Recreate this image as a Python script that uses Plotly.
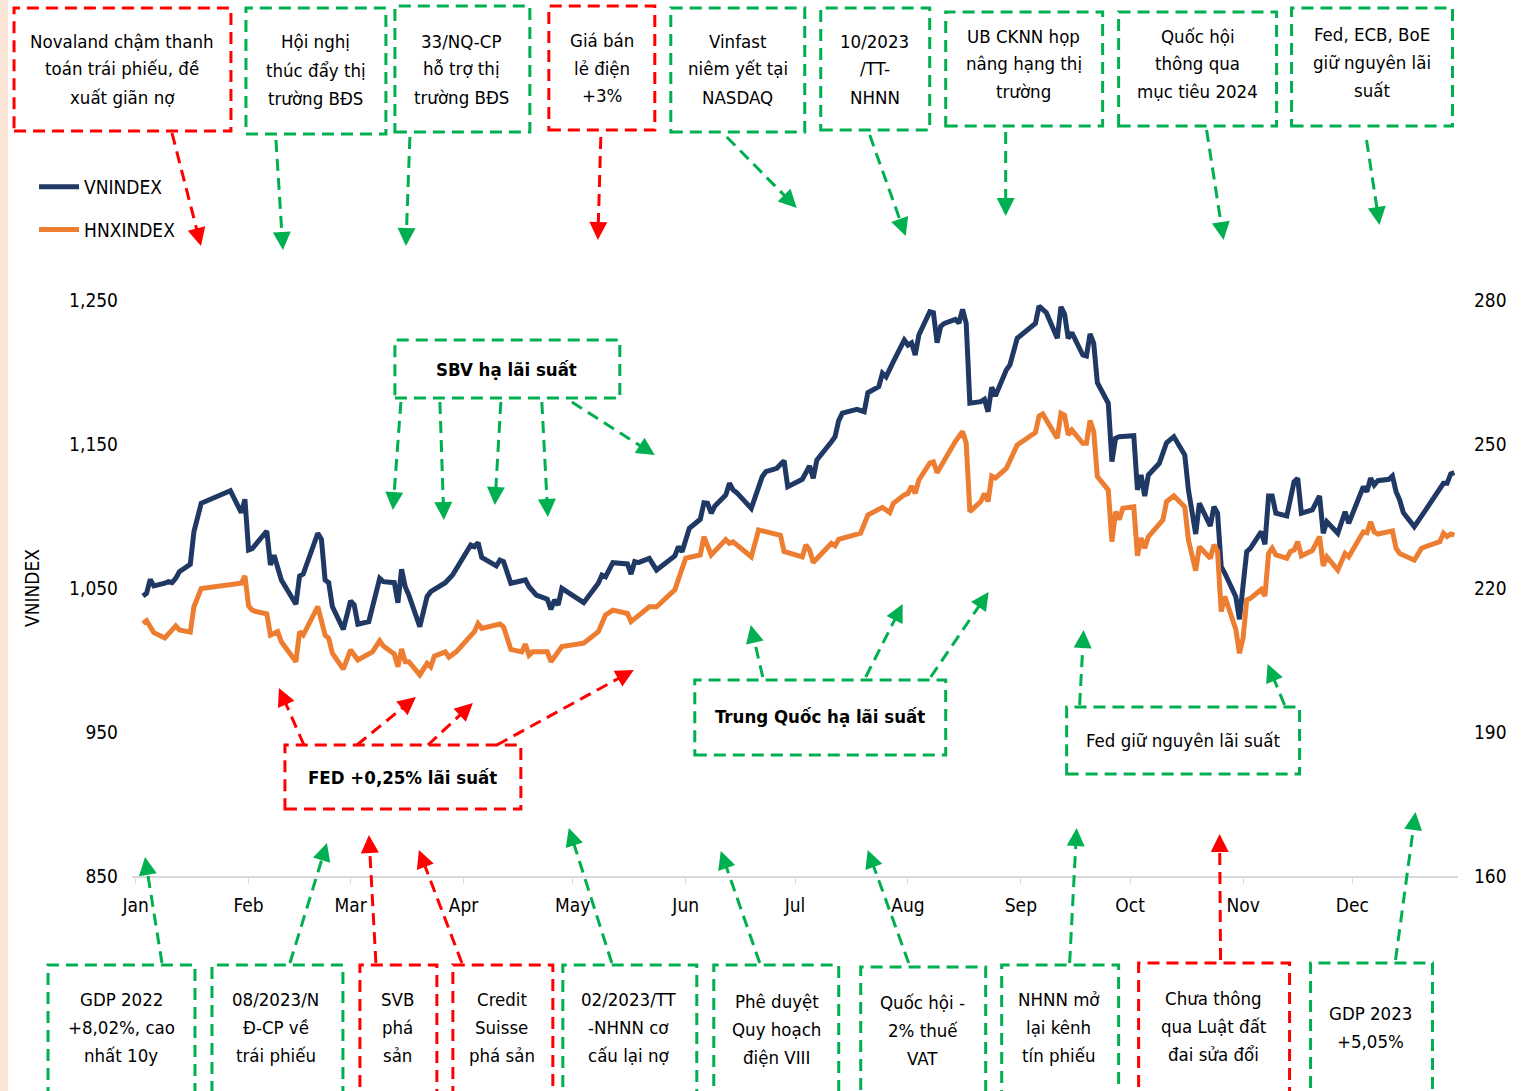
import plotly.graph_objects as go

# ---------------- DATA ----------------
vn_dates = ["2023-01-03","2023-01-04","2023-01-05","2023-01-06","2023-01-09","2023-01-10","2023-01-11","2023-01-12","2023-01-13","2023-01-16",
"2023-01-17","2023-01-19","2023-01-27","2023-01-30","2023-01-31","2023-02-01","2023-02-02","2023-02-06","2023-02-07","2023-02-08",
"2023-02-10","2023-02-14","2023-02-15","2023-02-16","2023-02-20","2023-02-21","2023-02-22","2023-02-23","2023-02-24","2023-02-27",
"2023-03-01","2023-03-02","2023-03-03","2023-03-06","2023-03-09","2023-03-10","2023-03-13","2023-03-14","2023-03-15","2023-03-16",
"2023-03-17","2023-03-20","2023-03-22","2023-03-23","2023-03-27","2023-03-29","2023-04-03","2023-04-04","2023-04-05","2023-04-06",
"2023-04-10","2023-04-11","2023-04-12","2023-04-14","2023-04-18","2023-04-19","2023-04-21","2023-04-24","2023-04-25","2023-04-26",
"2023-04-27","2023-04-28","2023-05-04","2023-05-08","2023-05-09","2023-05-10","2023-05-12","2023-05-16","2023-05-17","2023-05-18",
"2023-05-19","2023-05-22","2023-05-24","2023-05-25","2023-05-26","2023-05-29","2023-05-30","2023-05-31","2023-06-02","2023-06-05",
"2023-06-06","2023-06-07","2023-06-08","2023-06-09","2023-06-12","2023-06-13","2023-06-14","2023-06-15","2023-06-19","2023-06-22",
"2023-06-23","2023-06-26","2023-06-28","2023-06-29","2023-07-03","2023-07-05","2023-07-06","2023-07-07","2023-07-11","2023-07-12",
"2023-07-13","2023-07-14","2023-07-18","2023-07-20","2023-07-21","2023-07-24","2023-07-25","2023-07-26","2023-07-28","2023-07-31",
"2023-08-01","2023-08-02","2023-08-03","2023-08-04","2023-08-07","2023-08-08","2023-08-09","2023-08-10","2023-08-11","2023-08-14",
"2023-08-15","2023-08-16","2023-08-17","2023-08-18","2023-08-21","2023-08-22","2023-08-23","2023-08-24","2023-08-25","2023-08-28",
"2023-08-29","2023-08-31","2023-09-05","2023-09-06","2023-09-08","2023-09-11","2023-09-12","2023-09-13","2023-09-14","2023-09-15",
"2023-09-18","2023-09-19","2023-09-20","2023-09-21","2023-09-22","2023-09-25","2023-09-26","2023-09-27","2023-09-28","2023-10-02",
"2023-10-03","2023-10-04","2023-10-05","2023-10-06","2023-10-09","2023-10-11","2023-10-13","2023-10-16","2023-10-17","2023-10-19",
"2023-10-20","2023-10-23","2023-10-24","2023-10-25","2023-10-26","2023-10-27","2023-10-30","2023-10-31","2023-11-02","2023-11-03",
"2023-11-06","2023-11-07","2023-11-08","2023-11-09","2023-11-10","2023-11-13","2023-11-15","2023-11-16","2023-11-17","2023-11-20",
"2023-11-22","2023-11-23","2023-11-24","2023-11-27","2023-11-29","2023-11-30","2023-12-04","2023-12-05","2023-12-06","2023-12-07",
"2023-12-08","2023-12-11","2023-12-12","2023-12-13","2023-12-14","2023-12-15","2023-12-18","2023-12-20","2023-12-21","2023-12-26",
"2023-12-27","2023-12-28","2023-12-29"]
vn_values = [1044.4,1046.3,1056.0,1051.4,1053.3,1054.4,1053.7,1056.7,1061.3,1066.5,
1089.1,1108.8,1117.6,1102.3,1111.6,1076.4,1077.3,1089.6,1066.0,1072.7,
1055.6,1038.7,1058.3,1059.7,1088.0,1083.8,1055.6,1053.7,1037.1,1021.3,
1041.0,1038.2,1024.8,1026.6,1056.7,1054.4,1053.7,1039.8,1063.0,1050.9,
1045.1,1023.1,1044.0,1047.4,1053.7,1059.0,1079.9,1078.7,1081.5,1071.3,
1065.3,1069.4,1068.3,1053.3,1055.6,1050.9,1045.1,1042.2,1035.2,1041.7,
1038.2,1049.8,1039.8,1053.3,1059.0,1057.8,1067.6,1066.7,1059.7,1068.3,
1067.6,1070.6,1062.5,1064.4,1066.0,1072.2,1078.7,1075.2,1091.5,1097.7,
1109.2,1108.8,1101.9,1106.9,1114.6,1122.7,1118.1,1116.2,1105.3,1127.3,
1130.8,1133.1,1138.4,1120.3,1125.5,1134.7,1126.2,1138.9,1151.6,1155.1,
1166.3,1171.5,1174.1,1172.4,1185.6,1189.8,1199.1,1196.7,1207.2,1222.2,
1218.7,1220.3,1211.8,1225.7,1241.9,1241.2,1220.3,1231.7,1233.8,1236.6,
1234.0,1243.5,1233.8,1178.3,1179.4,1181.0,1172.4,1189.4,1183.3,1201.4,
1204.9,1223.4,1233.8,1245.8,1241.2,1223.4,1245.3,1240.3,1223.4,1227.3,
1211.8,1211.1,1226.4,1219.9,1192.6,1178.3,1137.7,1154.0,1155.1,1155.8,
1118.1,1128.5,1113.9,1128.5,1136.6,1150.9,1155.1,1142.4,1118.1,1087.5,
1108.8,1093.1,1106.5,1101.9,1064.8,1060.2,1044.0,1028.3,1075.2,1077.6,
1089.1,1080.3,1113.9,1113.9,1101.9,1100.0,1123.8,1126.2,1101.9,1104.2,
1113.9,1088.0,1096.0,1088.0,1103.0,1094.9,1120.3,1116.9,1126.2,1121.5,
1124.5,1125.5,1127.8,1116.9,1111.1,1102.3,1092.6,1100.7,1103.7,1122.7,
1122.7,1129.2,1130.1]

hnx_dates = ["2023-01-03","2023-01-04","2023-01-06","2023-01-09","2023-01-12","2023-01-13","2023-01-16","2023-01-17","2023-01-19","2023-01-30",
"2023-01-31","2023-02-01","2023-02-02","2023-02-03","2023-02-06","2023-02-07","2023-02-09","2023-02-10","2023-02-14","2023-02-15",
"2023-02-16","2023-02-20","2023-02-22","2023-02-23","2023-02-24","2023-02-27","2023-03-01","2023-03-03","2023-03-07","2023-03-09",
"2023-03-10","2023-03-13","2023-03-14","2023-03-15","2023-03-16","2023-03-17","2023-03-20","2023-03-22","2023-03-23","2023-03-24",
"2023-03-27","2023-03-28","2023-03-30","2023-04-03","2023-04-04","2023-04-05","2023-04-06","2023-04-11","2023-04-12","2023-04-14",
"2023-04-17","2023-04-18","2023-04-19","2023-04-20","2023-04-24","2023-04-25","2023-04-26","2023-04-28","2023-05-04","2023-05-08",
"2023-05-10","2023-05-12","2023-05-16","2023-05-17","2023-05-22","2023-05-24","2023-05-29","2023-05-30","2023-06-01","2023-06-05",
"2023-06-06","2023-06-08","2023-06-12","2023-06-13","2023-06-14","2023-06-19","2023-06-21","2023-06-27","2023-06-28","2023-07-03",
"2023-07-04","2023-07-05","2023-07-06","2023-07-11","2023-07-12","2023-07-13","2023-07-18","2023-07-19","2023-07-21","2023-07-25",
"2023-07-27","2023-07-28","2023-07-31","2023-08-01","2023-08-02","2023-08-03","2023-08-04","2023-08-07","2023-08-08","2023-08-09",
"2023-08-14","2023-08-16","2023-08-17","2023-08-18","2023-08-21","2023-08-22","2023-08-23","2023-08-24","2023-08-25","2023-08-28",
"2023-08-31","2023-09-05","2023-09-06","2023-09-07","2023-09-11","2023-09-12","2023-09-13","2023-09-14","2023-09-15","2023-09-18",
"2023-09-19","2023-09-20","2023-09-21","2023-09-22","2023-09-25","2023-09-26","2023-09-27","2023-09-28","2023-09-29","2023-10-02",
"2023-10-03","2023-10-04","2023-10-05","2023-10-06","2023-10-10","2023-10-11","2023-10-13","2023-10-16","2023-10-17","2023-10-19",
"2023-10-20","2023-10-23","2023-10-24","2023-10-25","2023-10-26","2023-10-27","2023-10-30","2023-10-31","2023-11-01","2023-11-02",
"2023-11-03","2023-11-06","2023-11-07","2023-11-08","2023-11-09","2023-11-10","2023-11-13","2023-11-14","2023-11-15","2023-11-16",
"2023-11-17","2023-11-20","2023-11-22","2023-11-23","2023-11-24","2023-11-27","2023-11-29","2023-11-30","2023-12-04","2023-12-05",
"2023-12-06","2023-12-07","2023-12-08","2023-12-12","2023-12-13","2023-12-14","2023-12-18","2023-12-20","2023-12-21","2023-12-25",
"2023-12-26","2023-12-27","2023-12-28","2023-12-29"]
hnx_values = [212.6,213.2,210.7,209.6,212.1,211.25,210.8,216.1,219.9,221.0,
222.5,216.25,215.4,215.1,214.6,210.2,210.9,208.8,204.65,210.9,
210.2,216.1,210.2,209.5,206.4,203.1,207.1,205.0,206.7,209.0,
207.9,206.25,203.6,207.3,204.65,204.65,201.9,204.3,203.6,205.8,
206.7,205.6,206.7,210.2,210.9,212.6,211.6,212.5,211.9,207.2,
206.7,208.3,206.0,206.7,206.7,204.65,205.7,207.8,208.5,210.9,
214.4,215.4,214.7,213.0,216.1,216.1,219.6,222.0,226.2,226.9,
230.7,226.9,230.1,229.3,229.6,226.5,232.1,231.0,227.6,226.5,
229.0,227.9,225.3,229.3,228.8,230.15,231.25,231.4,235.2,236.8,
235.7,237.65,239.4,239.7,241.25,239.7,242.5,246.0,246.25,244.0,
250.5,252.6,250.15,235.9,238.0,239.7,238.0,243.3,242.9,244.9,
249.8,252.4,255.8,256.25,251.2,256.4,256.0,251.9,252.9,250.15,
250.15,254.9,252.6,243.2,240.4,229.65,235.9,234.3,236.6,236.9,
226.7,230.4,228.3,230.7,234.2,238.0,239.2,236.9,230.0,223.6,
228.6,226.2,229.0,227.6,215.1,218.2,211.4,206.4,209.5,217.5,
217.85,219.7,218.3,227.2,228.3,226.9,226.2,227.6,227.9,229.65,
226.7,227.8,230.7,224.6,226.5,223.75,227.2,226.5,231.7,231.5,
233.8,231.7,231.25,231.9,228.3,227.2,225.8,228.3,228.6,229.65,
231.4,230.7,231.25,231.0]

series_names = ["VNINDEX", "HNXINDEX"]
y_left_title = "VNINDEX"
y_left_ticks = [850, 950, 1050, 1150, 1250]
y_right_ticks = [160, 190, 220, 250, 280]

top_events = [
    "Novaland chậm thanh<br>toán trái phiếu, đề<br>xuất giãn nợ",
    "Hội nghị<br>thúc đẩy thị<br>trường BĐS",
    "33/NQ-CP<br>hỗ trợ thị<br>trường BĐS",
    "Giá bán<br>lẻ điện<br>+3%",
    "Vinfast<br>niêm yết tại<br>NASDAQ",
    "10/2023<br>/TT-<br>NHNN",
    "UB CKNN họp<br>nâng hạng thị<br>trường",
    "Quốc hội<br>thông qua<br>mục tiêu 2024",
    "Fed, ECB, BoE<br>giữ nguyên lãi<br>suất",
]
top_kinds = ["neg", "pos", "pos", "neg", "pos", "pos", "pos", "pos", "pos"]
mid_events = ["<b>SBV hạ lãi suất</b>", "<b>FED +0,25% lãi suất</b>",
              "<b>Trung Quốc hạ lãi suất</b>", "Fed giữ nguyên lãi suất"]
mid_kinds = ["pos", "neg", "pos", "pos"]
bottom_events = [
    "GDP 2022<br>+8,02%, cao<br>nhất 10y",
    "08/2023/N<br>Đ-CP về<br>trái phiếu",
    "SVB<br>phá<br>sản",
    "Credit<br>Suisse<br>phá sản",
    "02/2023/TT<br>-NHNN cơ<br>cấu lại nợ",
    "Phê duyệt<br>Quy hoạch<br>điện VIII",
    "Quốc hội -<br>2% thuế<br>VAT",
    "NHNN mở<br>lại kênh<br>tín phiếu",
    "Chưa thông<br>qua Luật đất<br>đai sửa đổi",
    "GDP 2023<br>+5,05%",
]
bottom_kinds = ["pos", "pos", "neg", "neg", "pos", "pos", "pos", "pos", "neg", "pos"]

# ---------------- LAYOUT (pixel geometry) ----------------
W, H = 1525, 1091
PL, PR, PT, PB = 132, 1458.5, 300, 876
def px(x): return (x - PL) / (PR - PL)
def py(y): return (PB - y) / (PB - PT)

COL = {"pos": "#00B050", "neg": "#FF0000"}
FONT = "DejaVu Sans Condensed, Liberation Sans Narrow, Arial Narrow, sans-serif"
DASH = "12px,7px"
BOX_FS = 18.5
LINE_GAP = 28

top_boxes = [(14, 8, 231, 131, 122, 69), (246, 8, 386, 134, 316, 70), (395, 6, 530, 132, 462, 69),
             (549, 6, 655, 130, 602, 68), (671, 8, 805, 132, 738, 69), (821, 8, 930, 130, 875, 69),
             (946, 12, 1103, 126, 1024, 64), (1119, 12, 1277, 126, 1198, 64), (1292, 8, 1453, 126, 1372, 62)]
top_arrows = [(172, 133, 201, 246), (276, 140, 283, 250), (410, 137, 406, 246), (601, 137, 598, 240),
              (727, 137, 797, 208), (870, 135, 906, 236), (1006, 132, 1006, 216), (1207, 130, 1224, 240),
              (1367, 140, 1380, 225)]
mid_boxes = [(395, 340, 620, 398, 507, 369), (285, 745, 521, 809, 403, 777),
             (695, 680, 946, 755, 820, 716), (1067, 707, 1300, 774, 1183, 740)]
mid_arrows = [
    [(401, 402, 393, 510), (440, 402, 444, 520), (501, 402, 495, 505), (542, 402, 548, 517), (572, 402, 655, 455)],
    [(304, 745, 279, 688), (357, 745, 416, 697), (428, 745, 473, 703), (497, 745, 634, 670)],
    [(763, 677, 751, 625), (866, 677, 903, 604), (931, 677, 989, 592)],
    [(1080, 705, 1084, 630), (1285, 705, 1268, 664)],
]
bottom_boxes = [(48, 965, 195, 1100, 121, 1027), (212, 965, 343, 1100, 276, 1027), (360, 965, 437, 1100, 398, 1027),
                (453, 965, 553, 1100, 502, 1027), (563, 965, 697, 1100, 629, 1027), (714, 965, 839, 1100, 777, 1029),
                (861, 967, 986, 1100, 923, 1030), (1002, 965, 1119, 1100, 1059, 1027), (1139, 963, 1290, 1100, 1214, 1026),
                (1311, 963, 1433, 1100, 1371, 1027)]
bottom_arrows = [(162, 963, 145, 857), (290, 963, 327, 843), (376, 963, 369, 835), (462, 963, 419, 850),
                 (612, 963, 569, 828), (760, 963, 721, 851), (909, 963, 868, 850), (1070, 963, 1077, 828),
                 (1221, 960, 1220, 834), (1396, 960, 1416, 812)]

fig = go.Figure()
fig.add_trace(go.Scatter(x=vn_dates, y=vn_values, name=series_names[0], mode="lines",
                         line=dict(color="#1F3864", width=5), legendgroup="a"))
fig.add_trace(go.Scatter(x=hnx_dates, y=hnx_values, name=series_names[1], mode="lines", yaxis="y2",
                         line=dict(color="#ED7D31", width=5), legendgroup="b"))

shapes = []
annotations = []

shapes.append(dict(type="rect", xref="paper", yref="paper", x0=px(0), x1=px(8), y0=py(H + 5), y1=py(-5),
                   fillcolor="#FBE5D6", line=dict(width=0), layer="below"))

def add_box(b, text, kind):
    x0, y0, x1, y1, cx, cy = b
    c = COL[kind]
    shapes.append(dict(type="rect", xref="paper", yref="paper", x0=px(x0), x1=px(x1), y0=py(y1), y1=py(y0),
                       line=dict(color=c, width=3, dash=DASH), fillcolor="rgba(0,0,0,0)"))
    lines = text.split("<br>")
    n = len(lines)
    for i, ln in enumerate(lines):
        yy = cy + (i - (n - 1) / 2) * LINE_GAP
        annotations.append(dict(xref="paper", yref="paper", x=px(cx), y=py(yy), text=ln, showarrow=False,
                                xanchor="center", yanchor="middle", align="center",
                                font=dict(family=FONT, size=BOX_FS, color="#000000")))

def add_arrow(a, kind):
    tx, ty, hx, hy = a
    c = COL[kind]
    dx, dy = hx - tx, hy - ty
    L = (dx * dx + dy * dy) ** 0.5
    ux, uy = dx / L, dy / L
    bx, by = hx - ux * 14, hy - uy * 14
    shapes.append(dict(type="line", xref="paper", yref="paper", x0=px(tx), y0=py(ty), x1=px(bx), y1=py(by),
                       line=dict(color=c, width=3, dash=DASH)))
    annotations.append(dict(xref="paper", yref="paper", x=px(hx), y=py(hy), ax=bx - hx, ay=by - hy,
                            axref="pixel", ayref="pixel", text="", showarrow=True,
                            arrowhead=2, arrowsize=1.2, arrowwidth=3, arrowcolor=c))

for b, t, k, a in zip(top_boxes, top_events, top_kinds, top_arrows):
    add_box(b, t, k)
    add_arrow(a, k)
for b, t, k, arr in zip(mid_boxes, mid_events, mid_kinds, mid_arrows):
    add_box(b, t, k)
    for a in arr:
        add_arrow(a, k)
for b, t, k, a in zip(bottom_boxes, bottom_events, bottom_kinds, bottom_arrows):
    add_box(b, t, k)
    add_arrow(a, k)

annotations.append(dict(xref="paper", yref="paper", x=px(32), y=py(588), text=y_left_title, textangle=-90,
                        showarrow=False, xanchor="center", yanchor="middle",
                        font=dict(family=FONT, size=19, color="#000000")))

tickfont = dict(family=FONT, size=19, color="#000000")
fig.update_layout(
    width=W, height=H,
    margin=dict(l=PL, r=W - PR, t=PT, b=H - PB, autoexpand=False),
    paper_bgcolor="white", plot_bgcolor="white",
    font=dict(family=FONT, size=19, color="#000000"),
    showlegend=True,
    legend=dict(x=px(34), y=py(168), xanchor="left", yanchor="top", font=dict(family=FONT, size=19),
                bgcolor="rgba(0,0,0,0)", tracegroupgap=15, itemwidth=40),
    xaxis=dict(type="date", range=["2022-12-31", "2023-12-30"], tick0="2023-01-01", dtick="M1",
               tickformat="%b", showgrid=False, zeroline=False, showline=True, linecolor="#D9D9D9",
               linewidth=2, ticks="outside", tickcolor="#D9D9D9", ticklen=6, tickwidth=1,
               tickfont=tickfont, ticklabelstandoff=5),
    yaxis=dict(range=[850, 1250], tickmode="array", tickvals=y_left_ticks, tickformat=",", showgrid=False,
               zeroline=False, showline=False, ticks="", tickfont=tickfont, ticklabelstandoff=13),
    yaxis2=dict(range=[160, 280], tickmode="array", tickvals=y_right_ticks, overlaying="y", side="right",
                showgrid=False, zeroline=False, showline=False, ticks="", tickfont=tickfont, ticklabelstandoff=15),
    shapes=shapes,
    annotations=annotations,
)

fig.write_html("out.html", config={"displayModeBar": False},
               post_script="document.body.style.margin='0';document.body.style.padding='0';")
